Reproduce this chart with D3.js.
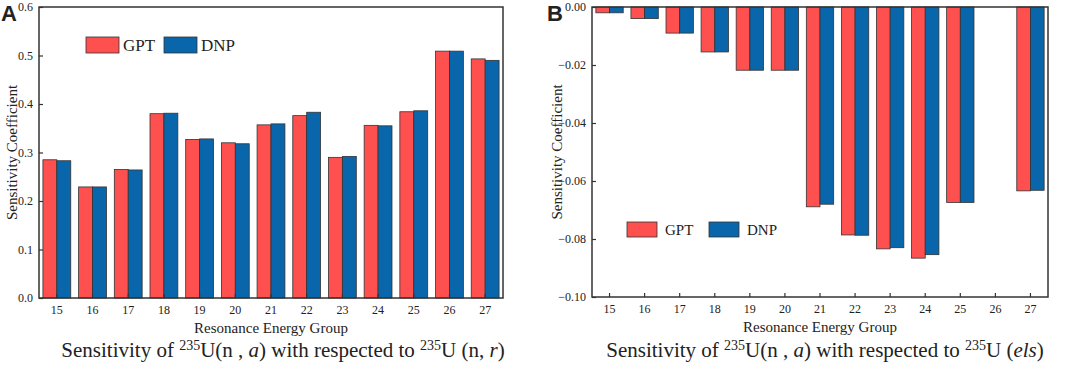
<!DOCTYPE html>
<meta charset="utf-8">
<script src="https://cdn.jsdelivr.net/npm/d3@7"></script>
<style>
body{margin:0;background:#fff;}
text{font-family:"Liberation Serif","Times New Roman",serif;fill:#222;}
</style>
<body>
<script>
// data
var groups=["15","16","17","18","19","20","21","22","23","24","25","26","27"];
var gptA=[0.285,0.229,0.265,0.380,0.327,0.320,0.357,0.376,0.290,0.356,0.384,0.509,0.493];
var dnpA=[0.283,0.229,0.264,0.381,0.328,0.318,0.359,0.383,0.292,0.355,0.386,0.509,0.490];
var gptB=[-0.002,-0.004,-0.009,-0.0155,-0.0218,-0.0218,-0.0689,-0.0786,-0.0834,-0.0866,-0.0674,null,-0.0634];
var dnpB=[-0.002,-0.004,-0.009,-0.0155,-0.0218,-0.0218,-0.0680,-0.0787,-0.0830,-0.0854,-0.0674,null,-0.0632];
var ticksA=[0,0.1,0.2,0.3,0.4,0.5,0.6];
var ticksB=[0,-0.02,-0.04,-0.06,-0.08,-0.10];
var series=["GPT","DNP"];
var colors=["#ff5050","#0a66aa"];

var serif="Liberation Serif, Times New Roman, serif";
var svg=d3.select("body").append("svg").attr("width",1072).attr("height",370);

function panel(o){
  var g=svg.append("g");
  var x=d3.scaleBand().domain(groups).range([o.left,o.right]).paddingInner(0.22).paddingOuter(0.11);
  var x1=d3.scaleBand().domain(series).range([0,x.bandwidth()]);
  var y=d3.scaleLinear().domain(o.domain).range([o.bottom,o.top]);
  var base=y(0);
  var vals=[o.gpt,o.dnp];
  vals.forEach(function(arr,si){
    g.selectAll(null).data(arr.map(function(v,i){return {g:groups[i],v:v};}).filter(function(d){return d.v!=null;}))
      .enter().append("rect")
      .attr("x",function(d){return x(d.g)+x1(series[si]);})
      .attr("width",x1.bandwidth())
      .attr("y",function(d){return Math.min(y(d.v),base);})
      .attr("height",function(d){return Math.abs(y(d.v)-base);})
      .attr("fill",colors[si]).attr("stroke","#333").attr("stroke-width",0.8);
  });
  // frame
  g.append("rect").attr("x",o.left).attr("y",o.top).attr("width",o.right-o.left).attr("height",o.bottom-o.top)
    .attr("fill","none").attr("stroke","#333").attr("stroke-width",1.5);
  // y axis, ticks inward
  var ya=d3.axisLeft(y).tickValues(o.ticks).tickFormat(o.fmt).tickSizeInner(-4).tickSizeOuter(0).tickPadding(6);
  var yg=g.append("g").attr("transform","translate("+o.left+",0)").call(ya)
    .attr("font-family",serif).attr("font-size",12);
  yg.select(".domain").remove();
  yg.selectAll("line").attr("stroke","#333").attr("stroke-width",1.2);
  yg.selectAll("text").attr("fill","#222");
  // x axis, ticks inward
  var xa=d3.axisBottom(x).tickSizeInner(-4).tickSizeOuter(0).tickPadding(7);
  var xg=g.append("g").attr("transform","translate(0,"+o.bottom+")").call(xa)
    .attr("font-family",serif).attr("font-size",12);
  xg.select(".domain").remove();
  xg.selectAll("line").attr("stroke","#333").attr("stroke-width",1.2);
  xg.selectAll("text").attr("fill","#222");
  // titles
  g.append("text").attr("x",(o.left+o.right)/2).attr("y",o.bottom+35).attr("text-anchor","middle")
    .style("font-size","15px").text("Resonance Energy Group");
  g.append("text").attr("transform","translate("+(o.left-o.ytOff)+","+((o.top+o.bottom)/2)+") rotate(-90)")
    .attr("text-anchor","middle").attr("dy","0.35em").style("font-size","15px").text("Sensitivity Coefficient");
  g.append("text").attr("x",o.panelX).attr("y",21).style("font-family","Liberation Sans,Arial,sans-serif")
    .style("font-weight","bold").style("font-size","22px").attr("fill","#000").text(o.label);
  // caption
  var cap=g.append("text").attr("x",o.capX).attr("y",357).attr("text-anchor","middle").style("font-size","21px");
  cap.append("tspan").text("Sensitivity of ");
  cap.append("tspan").attr("dy",-7).style("font-size","14px").text("235");
  cap.append("tspan").attr("dy",7).text("U(n , ");
  cap.append("tspan").style("font-style","italic").text("a");
  cap.append("tspan").text(") with respected to ");
  cap.append("tspan").attr("dy",-7).style("font-size","14px").text("235");
  cap.append("tspan").attr("dy",7).text(o.capTail[0]);
  cap.append("tspan").style("font-style","italic").text(o.capTail[1]);
  cap.append("tspan").text(")");
  // legend
  var lg=g.append("g");
  series.forEach(function(s,i){
    lg.append("rect").attr("x",o.leg.x[i]).attr("y",o.leg.y).attr("width",o.leg.w).attr("height",o.leg.h)
      .attr("fill",colors[i]).attr("stroke","#333").attr("stroke-width",0.8);
    lg.append("text").attr("x",o.leg.x[i]+o.leg.w+o.leg.gap).attr("y",o.leg.y+o.leg.h/2).attr("dy","0.35em")
      .style("font-size",o.leg.fs).text(s);
  });
}

panel({left:39,right:503,top:7,bottom:298,domain:[0,0.6],ticks:ticksA,fmt:d3.format(".1f"),
  gpt:gptA,dnp:dnpA,label:"A",panelX:1,capX:283,capTail:["U (n, ","r"],ytOff:27,
  leg:{x:[86,164],y:37,w:33,h:16,gap:4,fs:"17px"}});
panel({left:592,right:1048,top:7,bottom:297,domain:[-0.1,0],ticks:ticksB,fmt:d3.format(".2f"),
  gpt:gptB,dnp:dnpB,label:"B",panelX:547,capX:825,capTail:["U (","els"],ytOff:35,
  leg:{x:[627,709],y:222,w:30,h:15,gap:8,fs:"15px"}});
</script>
</body>
